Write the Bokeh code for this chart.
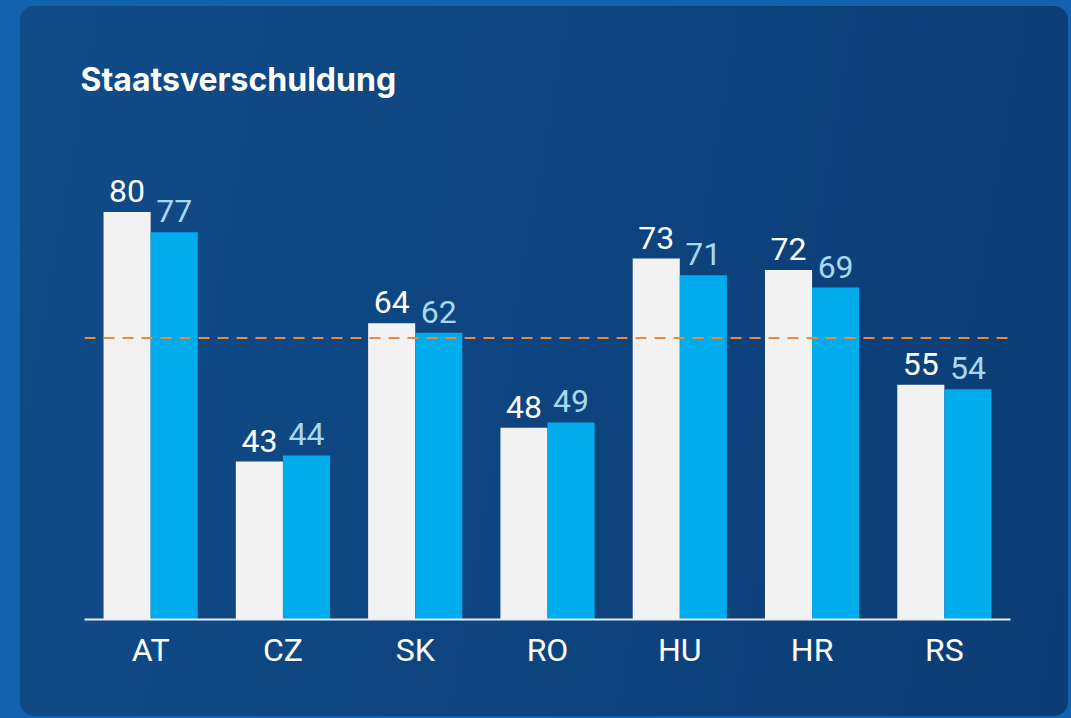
from bokeh.plotting import figure
from bokeh.models import ColumnDataSource, FactorRange, Range1d, Span
from bokeh.transform import dodge
from bokeh.core.properties import value
from bokeh.embed import file_html
from bokeh.resources import INLINE

# ---- data ----
countries = ["AT", "CZ", "SK", "RO", "HU", "HR", "RS"]
series_a = [80.2, 43.2, 63.7, 48.2, 73.3, 71.6, 54.6]   # white bars
series_b = [77.2, 44.1, 62.3, 49.0, 70.8, 69.0, 53.9]   # cyan bars
title_text = "Staatsverschuldung"

labels_a = [f"{round(v)}" for v in series_a]
labels_b = [f"{round(v)}" for v in series_b]
mean_all = sum(series_a + series_b) / len(series_a + series_b)

src = ColumnDataSource(dict(cat=countries, a=series_a, b=series_b,
                            la=labels_a, lb=labels_b))

OUTER = "#1462ad"

p = figure(x_range=FactorRange(factors=countries, range_padding=0),
           y_range=Range1d(19.78, 89.46),
           frame_width=926, frame_height=470,
           min_border_left=64, min_border_right=58,
           min_border_top=143, min_border_bottom=97,
           output_backend="svg", toolbar_location=None,
           y_axis_location=None, title=title_text)

p.styles = {"margin-left": "20px", "margin-top": "6px",
            "border-radius": "14px", "overflow": "hidden",
            "background": "linear-gradient(100deg, #114b88 0%, #0e4580 45%, #0c3c74 100%)"}
p.background_fill_color = None
p.border_fill_color = None
p.outline_line_color = None
p.xgrid.visible = False
p.ygrid.visible = False

p.title.text_color = "white"
p.title.text_font = "Inter"
p.title.text_font_style = "bold"
p.title.text_font_size = "32px"
p.title.align = "left"
p.title.offset = -4
p.title.standoff = 102

W = 0.356
p.vbar(x=dodge("cat", -W / 2, range=p.x_range), top="a", bottom=0, width=W,
       source=src, fill_color="#f2f2f2", line_color=None)
p.vbar(x=dodge("cat", W / 2, range=p.x_range), top="b", bottom=0, width=W,
       source=src, fill_color="#00acec", line_color=None)

p.text(x=dodge("cat", -W / 2, range=p.x_range), y="a", text="la", source=src,
       text_font=value("Roboto"), text_font_size="32px", text_color="white",
       text_align="center", text_baseline="alphabetic", y_offset=-21)
p.text(x=dodge("cat", W / 2, range=p.x_range), y="b", text="lb", source=src,
       text_font=value("Roboto"), text_font_size="32px", text_color="#a6d8f2",
       text_align="center", text_baseline="alphabetic", y_offset=-21)

p.add_layout(Span(location=mean_all, dimension="width", line_color="#f0883a",
                  line_width=2, line_dash="11 8"))

ax = p.xaxis[0]
ax.axis_line_color = "#e8eef5"
ax.axis_line_width = 2
ax.major_tick_line_color = None
ax.minor_tick_line_color = None
ax.major_label_text_color = "white"
ax.major_label_text_font = "Roboto"
ax.major_label_text_font_size = "32px"
ax.major_label_standoff = 5

html = file_html(p, INLINE, title="Staatsverschuldung")
html = html.replace("</head>", "<style>html, body { background: %s; }</style></head>" % OUTER, 1)
open("out.html", "w").write(html)
